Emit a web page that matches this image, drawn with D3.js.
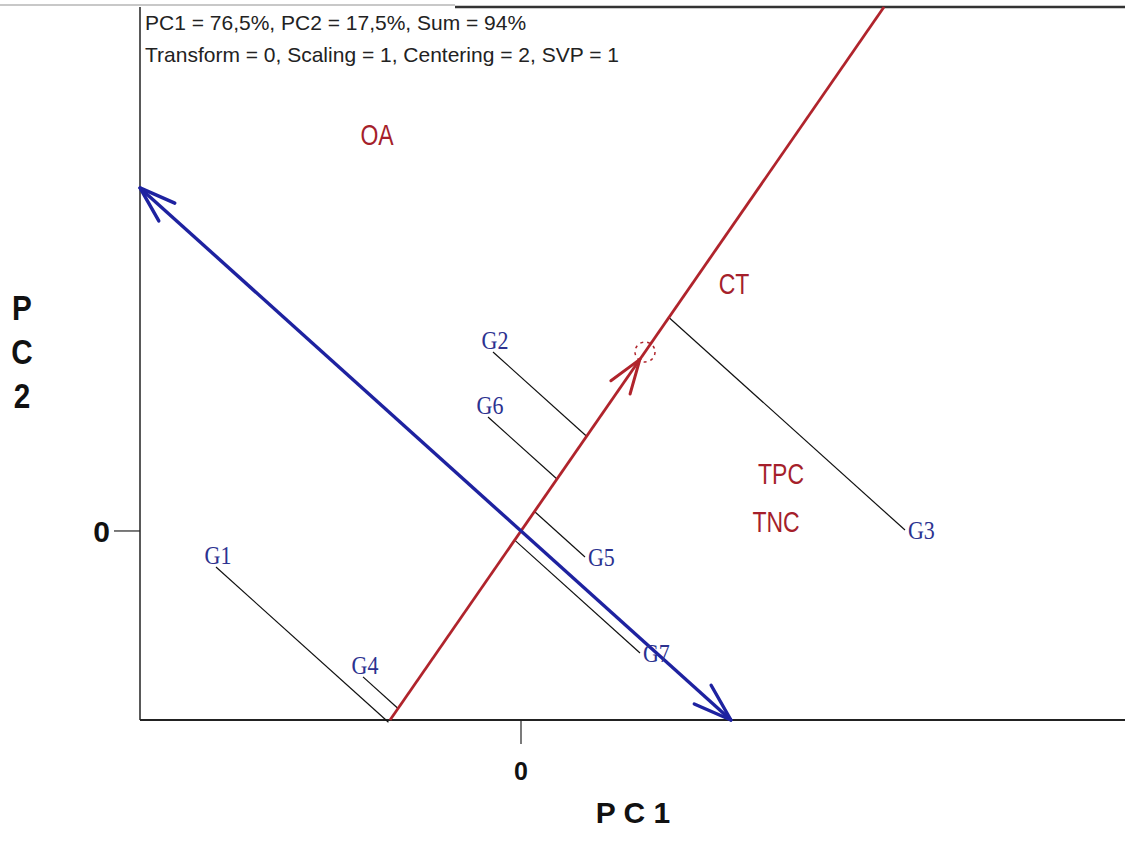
<!DOCTYPE html>
<html>
<head>
<meta charset="utf-8">
<script src="https://cdn.jsdelivr.net/npm/d3@7/dist/d3.min.js"></script>
<style>
  body { margin: 0; background: #fff; }
</style>
</head>
<body>
<div id="chart"></div>
<script>
// genotipi (coordinate PC1 / PC2)
var genotypes = ["G1", "G2", "G3", "G4", "G5", "G6", "G7"];
var genoPC1 = [-1.525, -0.14, 1.92, -0.79, 0.32, -0.165, 0.595];
var genoPC2 = [-0.158, 0.785, 0.004, -0.64, -0.114, 0.5, -0.535];

// tratti
var traits = ["OA", "CT", "TPC", "TNC"];
var traitPC1 = [-0.72, 1.065, 1.30, 1.275];
var traitPC2 = [1.737, 1.083, 0.25, 0.039];

// ambiente medio (cerchio tratteggiato)
var aecPC1 = 0.62;
var aecPC2 = 0.785;

var headerLines = ["PC1 = 76,5%, PC2 = 17,5%, Sum = 94%",
                   "Transform = 0, Scaling = 1, Centering = 2, SVP = 1"];
var xTicks = [0];
var yTicks = [0];

var width = 1125, height = 849;
var pLeft = 140, pRight = 1125, pTop = 7, pBottom = 720;

var svg = d3.select("#chart").append("svg")
  .attr("width", width)
  .attr("height", height)
  .style("font-family", "Arial, 'Liberation Sans', sans-serif");

var x = d3.scaleLinear().domain([-1.905, 3.02]).range([pLeft, pRight]);
var y = d3.scaleLinear().domain([-0.829, 2.298]).range([pBottom, pTop]);

var blue = "#1e22a0", red = "#b0242c", labRed = "#a51f2b", labBlue = "#2c3290";

// cornice
svg.append("line").attr("x1", 0).attr("x2", 455).attr("y1", 5).attr("y2", 5)
  .attr("stroke", "#c8c8c8").attr("stroke-width", 2);
svg.append("line").attr("x1", 455).attr("x2", width).attr("y1", pTop).attr("y2", pTop)
  .attr("stroke", "#333").attr("stroke-width", 2.5);
svg.append("line").attr("x1", pLeft).attr("x2", pLeft).attr("y1", pTop).attr("y2", pBottom)
  .attr("stroke", "#222").attr("stroke-width", 1.5);
svg.append("line").attr("x1", pLeft).attr("x2", width).attr("y1", pBottom).attr("y2", pBottom)
  .attr("stroke", "#222").attr("stroke-width", 2);

// intestazione
svg.selectAll(".hdr").data(headerLines).enter().append("text")
  .attr("x", 145)
  .attr("y", (d, i) => 30 + i * 32)
  .attr("font-size", 21)
  .attr("fill", "#222")
  .text(d => d);

// tick assi
var ox = x(0), oy = y(0);
xTicks.forEach(t => {
  svg.append("line").attr("x1", x(t)).attr("x2", x(t)).attr("y1", pBottom).attr("y2", pBottom + 24)
    .attr("stroke", "#222").attr("stroke-width", 1.2);
  svg.append("text").attr("x", x(t)).attr("y", 780).attr("text-anchor", "middle")
    .attr("font-size", 25).attr("font-weight", "bold").attr("fill", "#111").text(t);
});
yTicks.forEach(t => {
  svg.append("line").attr("x1", 114).attr("x2", pLeft).attr("y1", y(t)).attr("y2", y(t))
    .attr("stroke", "#222").attr("stroke-width", 1.2);
  svg.append("text").attr("x", 110).attr("y", y(t) + 11).attr("text-anchor", "end")
    .attr("font-size", 30).attr("font-weight", "bold").attr("fill", "#111").text(t);
});

// etichette assi
svg.append("text").attr("x", 633).attr("y", 823).attr("text-anchor", "middle")
  .attr("font-size", 30).attr("font-weight", "bold").attr("fill", "#111").text("P C 1");
["P", "C", "2"].forEach((c, i) => {
  var by = 320 + i * 44;
  svg.append("text")
    .attr("transform", `translate(22,${by}) scale(1.1,1.3)`)
    .attr("text-anchor", "middle")
    .attr("font-size", 27).attr("font-weight", "bold").attr("fill", "#111").text(c);
});

// direzioni (asse ambiente medio e ordinata)
var len = Math.hypot(aecPC1, aecPC2);
var u = [aecPC1 / len, aecPC2 / len];
var v = [-u[1], u[0]];
function pix(a, b) { return [x(a) - ox, y(b) - oy]; }

// distanza fino al bordo del riquadro
function exitT(d) {
  var ts = [];
  if (d[0] > 0) ts.push((pRight - ox) / d[0]);
  if (d[0] < 0) ts.push((pLeft - ox) / d[0]);
  if (d[1] > 0) ts.push((pBottom - oy) / d[1]);
  if (d[1] < 0) ts.push((pTop - oy) / d[1]);
  return d3.min(ts);
}
function endPoint(d) { var t = exitT(d); return [ox + d[0] * t, oy + d[1] * t]; }

function arrowHead(g, tip, back, color, lenA, ang, sw) {
  var n = Math.hypot(back[0], back[1]);
  var bx = back[0] / n, by = back[1] / n;
  [-ang, ang].forEach(a => {
    var c = Math.cos(a), s = Math.sin(a);
    var dx = bx * c - by * s, dy = bx * s + by * c;
    g.append("line").attr("x1", tip[0]).attr("y1", tip[1])
      .attr("x2", tip[0] + dx * lenA).attr("y2", tip[1] + dy * lenA)
      .attr("stroke", color).attr("stroke-width", sw).attr("stroke-linecap", "round");
  });
}

var lines = svg.append("g");

// linee di proiezione dei genotipi
genotypes.forEach((gName, i) => {
  var t = genoPC1[i] * u[0] + genoPC2[i] * u[1];
  lines.append("line")
    .attr("x1", x(genoPC1[i])).attr("y1", y(genoPC2[i]))
    .attr("x2", x(t * u[0])).attr("y2", y(t * u[1]))
    .attr("stroke", "#111").attr("stroke-width", 1.2);
});

// asse rosso
var du = pix(u[0], u[1]);
var rUp = endPoint(du), rDn = endPoint([-du[0], -du[1]]);
lines.append("line").attr("x1", rDn[0]).attr("y1", rDn[1]).attr("x2", rUp[0]).attr("y2", rUp[1])
  .attr("stroke", red).attr("stroke-width", 2.8);

// freccia e cerchio dell'ambiente medio
var aec = [x(aecPC1), y(aecPC2)];
var dn = Math.hypot(du[0], du[1]);
var tipR = [aec[0] - du[0] / dn * 9, aec[1] - du[1] / dn * 9];
arrowHead(lines, tipR, [-du[0], -du[1]], red, 36, 0.33, 3);
lines.append("circle").attr("cx", aec[0]).attr("cy", aec[1]).attr("r", 10)
  .attr("fill", "none").attr("stroke", red).attr("stroke-width", 1.5)
  .attr("stroke-dasharray", "3,4");

// asse blu con frecce alle due estremità
var dv = pix(v[0], v[1]);
var bUp = endPoint(dv), bDn = endPoint([-dv[0], -dv[1]]);
lines.append("line").attr("x1", bUp[0]).attr("y1", bUp[1]).attr("x2", bDn[0]).attr("y2", bDn[1])
  .attr("stroke", blue).attr("stroke-width", 3.4);
arrowHead(lines, bUp, [-dv[0], -dv[1]], blue, 38, 0.32, 3.4);
arrowHead(lines, bDn, dv, blue, 40, 0.32, 3.4);

// etichette genotipi (sopra o a destra, dal lato opposto all'asse)
genotypes.forEach((gName, i) => {
  var px = x(genoPC1[i]), py = y(genoPC2[i]);
  var side = genoPC1[i] * v[0] + genoPC2[i] * v[1];
  var tx, ty, anchor;
  if (side > 0) { tx = px + 2; ty = py - 3; anchor = "middle"; }
  else { tx = px + 3; ty = py + 9; anchor = "start"; }
  svg.append("text")
    .attr("transform", `translate(${tx},${ty}) scale(1,1.15)`)
    .attr("text-anchor", anchor)
    .attr("font-family", "'Liberation Serif', 'Times New Roman', serif")
    .attr("font-size", 22)
    .attr("fill", labBlue)
    .text(gName);
});

// etichette tratti
traits.forEach((tName, i) => {
  svg.append("text")
    .attr("transform", `translate(${x(traitPC1[i])},${y(traitPC2[i]) + 10}) scale(1,1.3)`)
    .attr("text-anchor", "middle")
    .attr("font-size", 23)
    .attr("fill", labRed)
    .text(tName);
});
</script>
</body>
</html>
